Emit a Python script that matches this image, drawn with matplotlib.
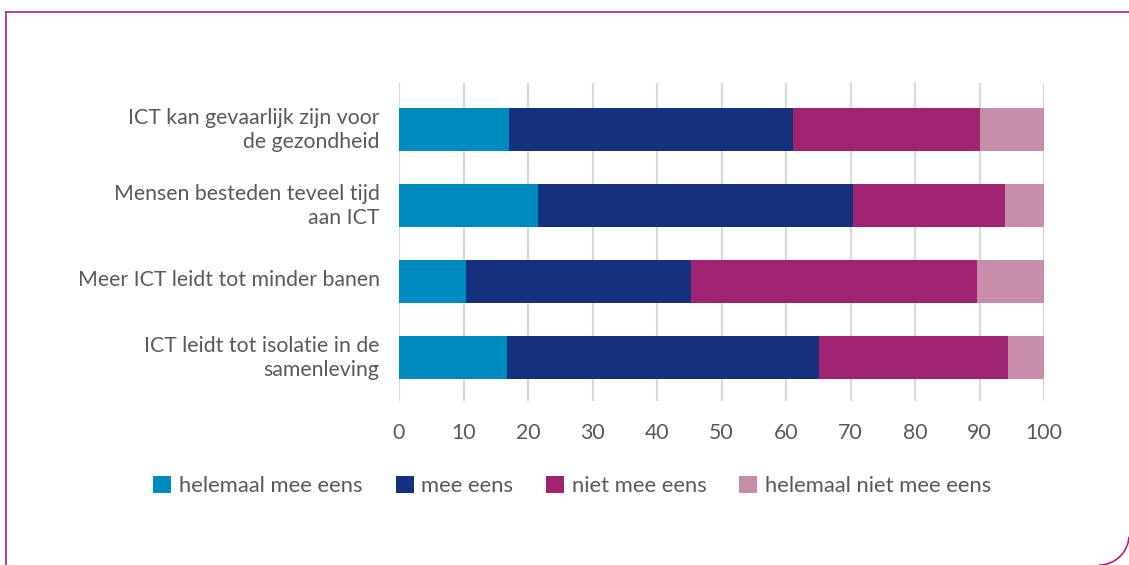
import numpy as np
import matplotlib.pyplot as plt
import matplotlib.transforms as mtransforms
from matplotlib.lines import Line2D

plt.rcParams['font.family'] = ['Lato', 'DejaVu Sans']

# statements (top to bottom)
stellingen = [
    "ICT kan gevaarlijk zijn voor\nde gezondheid",
    "Mensen besteden teveel tijd\naan ICT",
    "Meer ICT leidt tot minder banen",
    "ICT leidt tot isolatie in de\nsamenleving",
]

# percentages per answer category
helemaal_eens = [17.1, 21.6, 10.4, 16.7]
eens = [44.0, 48.8, 34.9, 48.4]
niet_eens = [29.0, 23.6, 44.3, 29.3]
helemaal_niet_eens = [9.9, 6.0, 10.4, 5.6]

reeksen = [helemaal_eens, eens, niet_eens, helemaal_niet_eens]
labels = ["helemaal mee eens", "mee eens", "niet mee eens", "helemaal niet mee eens"]
kleuren = ["#008BC0", "#15317E", "#A12472", "#C78DAB"]
ticks = [0, 10, 20, 30, 40, 50, 60, 70, 80, 90, 100]

tekst = "#595959"
rand = "#B81C85"

fig = plt.figure(figsize=(11.29, 5.65), dpi=100)
ax = fig.add_axes([399 / 1129, 1 - 401 / 565, 645 / 1129, 318 / 565])

y = np.arange(len(stellingen))
links = np.zeros(len(stellingen))
for waarden, lab, kl in zip(reeksen, labels, kleuren):
    ax.barh(y, waarden, left=links, height=0.57, color=kl, label=lab, zorder=3)
    links += np.array(waarden)

ax.set_xlim(0, 100)
ax.set_ylim(3.57, -0.61)
ax.set_xticks(ticks)
ax.set_yticks(y)
ax.set_yticklabels(stellingen, linespacing=1.25)
ax.tick_params(axis='both', length=0, labelsize=15.3, colors=tekst)
ax.tick_params(axis='y', pad=14)
ax.tick_params(axis='x', pad=16)
ax.xaxis.grid(True, color="#D9D9D9", linewidth=1.6, zorder=0)
for s in ax.spines.values():
    s.set_visible(False)

# labels a few pixels up
omhoog = mtransforms.ScaledTranslation(0, 3.5 / 100, fig.dpi_scale_trans)
for t in ax.get_yticklabels():
    t.set_transform(t.get_transform() + omhoog)

fig.legend(loc='center', bbox_to_anchor=(0.507, 1 - 486 / 565), ncol=4, frameon=False,
           fontsize=15.8, labelcolor=tekst, handlelength=0.82, handleheight=0.82,
           handletextpad=0.35, columnspacing=1.5)

# decorative frame
fig.add_artist(Line2D([6 / 1129, 1], [1 - 12 / 565, 1 - 12 / 565], color=rand, lw=1.2))
fig.add_artist(Line2D([6 / 1129, 6 / 1129], [0, 1 - 12 / 565], color=rand, lw=1.2))
hoek = np.linspace(-5, -88, 40) * np.pi / 180
bx = (1099 + 30 * np.cos(hoek)) / 1129
by = 1 - (535 - 30 * np.sin(hoek)) / 565
fig.add_artist(Line2D(bx, by, color=rand, lw=1.2))

fig.savefig("out.png", dpi=100)
